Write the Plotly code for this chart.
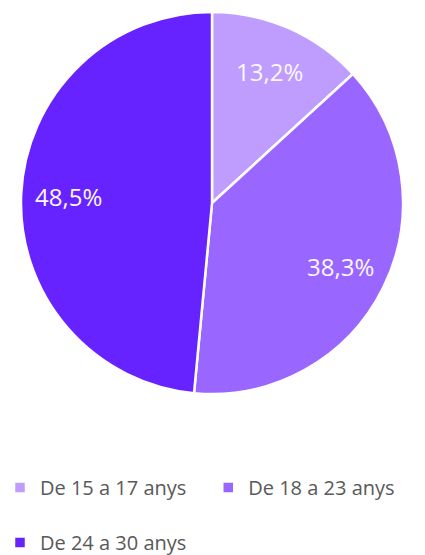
import math
import plotly.graph_objects as go

categories = ["De 15 a 17 anys", "De 18 a 23 anys", "De 24 a 30 anys"]
values = [13.2, 38.3, 48.5]
text_labels = ["13,2%", "38,3%", "48,5%"]
colors = ["#BE9DFF", "#9966FF", "#6622FF"]

W, H = 425, 555
# pie box in pixels (left, right, top, bottom)
PX0, PX1, PY0, PY1 = 21, 403, 12, 394
cx, cy = (PX0 + PX1) / 2, (PY0 + PY1) / 2
R = (PX1 - PX0) / 2

# legend entries of the first row get a blank second line for row spacing
legend_labels = [c + "<br> " for c in categories[:-1]] + [categories[-1]]

fig = go.Figure(go.Pie(
    labels=legend_labels,
    values=values,
    textinfo="none",
    marker=dict(colors=colors, line=dict(color="white", width=2.5)),
    sort=False,
    direction="clockwise",
    rotation=0,
    domain=dict(x=[PX0 / W, PX1 / W], y=[1 - PY1 / H, 1 - PY0 / H]),
    hoverinfo="skip",
))

# data labels placed along each slice's mid-angle
total = sum(values)
cum = 0.0
for v, t in zip(values, text_labels):
    mid = (cum + v / 2) / total * 2 * math.pi
    cum += v
    r = 0.75 * R
    x = cx + r * math.sin(mid)
    y = cy - r * math.cos(mid)
    fig.add_annotation(
        x=x / W, y=1 - y / H, xref="paper", yref="paper",
        text=t, showarrow=False, xanchor="center", yanchor="middle",
        font=dict(family="Open Sans", size=24, color="#FBF7FF"),
    )

fig.update_layout(
    width=W, height=H,
    margin=dict(l=0, r=0, t=0, b=0, autoexpand=False),
    paper_bgcolor="white",
    plot_bgcolor="white",
    showlegend=True,
    legend=dict(
        orientation="h",
        x=0, xanchor="left",
        y=1 - 468 / H, yanchor="top",
        font=dict(family="Open Sans", size=20, color="#595959"),
        valign="top",
        entrywidth=0.49,
        entrywidthmode="fraction",
        bgcolor="rgba(0,0,0,0)",
    ),
)

fig.write_html("out.html", config={"displayModeBar": False},
               post_script="document.body.style.margin='0px';")
